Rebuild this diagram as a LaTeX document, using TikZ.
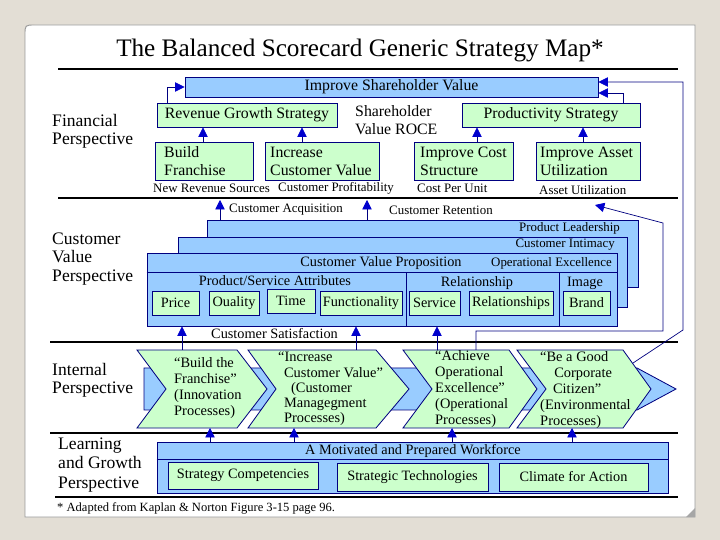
\documentclass[tikz,border=0pt]{standalone}
\usepackage{fontspec}
\setmainfont{Liberation Serif}
\usetikzlibrary{arrows.meta,fit}
\definecolor{bgray}{RGB}{227,222,213}
\definecolor{bblue}{RGB}{153,204,255}
\definecolor{bgreen}{RGB}{204,255,204}
\definecolor{navy}{RGB}{0,0,128}
\definecolor{arrblue}{RGB}{0,0,205}
\newcommand\fsz[2]{\fontsize{#1}{#2}\selectfont}
\begin{document}
\begin{tikzpicture}[x=0.03cm,y=-0.03cm,
  bluebox/.style={draw=navy, fill=bblue, line width=0.8pt, inner sep=0pt},
  greenbox/.style={draw=navy, fill=bgreen, line width=0.8pt, inner sep=0pt},
  chev/.style={draw=navy, fill=bgreen, line width=0.7pt, line join=miter},
  band/.style={draw=navy, fill=bblue, line width=0.7pt},
  arr/.style={draw=navy, line width=0.6pt, -{Triangle[length=8pt,width=8pt,color=arrblue]}},
  link/.style={draw=navy, line width=0.6pt},
  rule/.style={draw=black, line width=0.9pt},
  txt/.style={inner sep=0pt, text=black},
  big/.style={font=\fsz{13.5}{15.4}},
  mid/.style={font=\fsz{12.2}{14}},
  small/.style={font=\fsz{11}{13}},
  chevtxt/.style={inner sep=0pt, anchor=west, align=left, font=\fsz{12.3}{13.8}},
  side/.style={font=\fsz{15}{15.6}, align=left, anchor=west, inner sep=0pt},
]
% background and slide
\fill[bgray] (0,0) rectangle (720,540);
\useasboundingbox (0,0) rectangle (720,540);
\draw[draw=gray!80, fill=white, line width=0.8pt] (25,517) -- (25,35) .. controls (25,25) .. (35,25) -- (695,25) -- (695,517) -- cycle;
\fill[gray!70] (695,508) -- (695,517) -- (686,517) -- cycle;

% title and rules
\node[txt, font=\fsz{21.5}{24}] (title) at (360,50) {The Balanced Scorecard Generic Strategy Map*};
\draw[rule] (58,69) -- (678,69);
\draw[rule] (58,198) -- (678,198);
\draw[rule] (50,342) -- (678,342);
\draw[rule] (50,433) -- (678,433);
\draw[rule] (55,497) -- (678,497);

% side labels
\node[side] (lfin) at (52,131) {Financial\\Perspective};
\node[side] (lcus) at (52,259) {Customer\\Value\\Perspective};
\node[side] (lint) at (52,380) {Internal\\Perspective};
\node[side, font=\fsz{15}{17}] (llrn) at (58,465) {Learning\\and Growth\\Perspective};

% ---------- Financial ----------
\node[bluebox, fit={(185,77)(598,97)}, label={[txt,big]center:Improve Shareholder Value}] (sv) {};
\node[greenbox, fit={(157,103)(337,127)}, label={[txt,big]center:Revenue Growth Strategy}] (rg) {};
\node[greenbox, fit={(462,103)(640,127)}, label={[txt,big]center:Productivity Strategy}] (ps) {};
\node[txt, big, anchor=west, align=left] (roce) at (355,120) {Shareholder\\Value ROCE};
\node[greenbox, fit={(155,142)(253,180)}] (bf) {};
\node[greenbox, fit={(265,142)(379,180)}] (icv) {};
\node[greenbox, fit={(414,142)(513,180)}] (ics) {};
\node[greenbox, fit={(536,142)(640,180)}] (iau) {};
\node[txt, big, anchor=west, align=left] (bft) at (164,161) {Build\\Franchise};
\node[txt, big, anchor=west, align=left] (icvt) at (270,161) {Increase\\Customer Value};
\node[txt, big, anchor=west, align=left] (icst) at (420,161) {Improve Cost\\Structure};
\node[txt, big, anchor=west, align=left] (iaut) at (540,161) {Improve Asset\\Utilization};
\node[txt, small, anchor=west] (nrs) at (153,188) {New Revenue Sources};
\node[txt, small, anchor=west] (cpr) at (278,188) {Customer Profitability};
\node[txt, small, anchor=west] (cpu) at (417,188) {Cost Per Unit};
\node[txt, small, anchor=west] (aut) at (539,190) {Asset Utilization};

\draw[arr] (bf.north -| 203,0) -- (rg.south -| 203,0);
\draw[arr] (icv.north -| 302,0) -- (rg.south -| 302,0);
\draw[arr] (ics.north -| 477,0) -- (ps.south -| 477,0);
\draw[arr] (iau.north -| 583,0) -- (ps.south -| 583,0);
\draw[arr] (rg.north -| 167,0) |- (sv.west);
\draw[arr] (ps.north -| 623,0) |- (sv.east |- 0,93);

% ---------- Customer ----------
\node[bluebox, fit={(207,220)(638,287)}] (pl) {};
\node[txt, small, anchor=east] (plt) at (620,228) {Product Leadership};
\node[bluebox, fit={(178,237)(627,307)}] (ci) {};
\node[txt, small, anchor=east] (cit) at (615,245) {Customer Intimacy};
\node[bluebox, fit={(147,253)(617,326)}] (cvp) {};
\draw[link] (cvp.west |- 0,272) -- (cvp.east |- 0,272);
\draw[link] (cvp.south -| 406,0) -- (406,272);
\draw[link] (cvp.south -| 559,0) -- (559,272);
\node[txt, mid] (cvpt) at (381,263) {Customer Value Proposition};
\node[txt, small, anchor=east] (oet) at (612,263) {Operational Excellence};
\node[txt, mid] (psa) at (275,281) {Product/Service Attributes};
\node[txt, mid] (rel) at (477,283) {Relationship};
\node[txt, mid] (img) at (585,283) {Image};
\node[greenbox, fit={(152,291)(199,315)}, label={[txt,mid]center:Price}] (price) {};
\node[greenbox, fit={(209,291)(259,315)}, label={[txt,mid]center:Ouality}] (qual) {};
\node[greenbox, fit={(267,289)(315,313)}, label={[txt,mid]center:Time}] (time) {};
\node[greenbox, fit={(320,291)(402,315)}, label={[txt,mid]center:Functionality}] (func) {};
\node[greenbox, fit={(409,291)(460,315)}, label={[txt,mid]center:Service}] (serv) {};
\node[greenbox, fit={(469,291)(553,315)}, label={[txt,mid]center:Relationships}] (rels) {};
\node[greenbox, fit={(563,291)(610,315)}, label={[txt,mid]center:Brand}] (brand) {};

\coordinate (cacq) at (220,200);
\coordinate (cret) at (367,200);
\draw[arr] (pl.north -| cacq) -- (cacq);
\draw[arr] (pl.north -| cret) -- (cret);
\node[txt, small, anchor=west] (cacqt) at (229,210) {Customer Acquisition};
\node[txt, small, anchor=west] (crett) at (389,210) {Customer Retention};

% ---------- Internal ----------
\draw[band] (144,368) -- (637,368) -- (676,389) -- (637,410) -- (144,410) -- cycle;
\draw[chev] (137,350) -- (237,350) -- (267,389) -- (237,428) -- (137,428) -- (166,389) -- cycle;
\draw[chev] (248,350) -- (376,350) -- (409,389) -- (376,428) -- (248,428) -- (276,389) -- cycle;
\draw[chev] (403,350) -- (509,350) -- (537,389) -- (509,428) -- (403,428) -- (432,389) -- cycle;
\draw[chev] (517,350) -- (623,350) -- (651,389) -- (623,428) -- (517,428) -- (546,389) -- cycle;
\node[chevtxt] (c1) at (174,388) {“Build the\\Franchise”\\(Innovation\\Processes)};
\node[chevtxt, font=\fsz{12.3}{13}] (c2) at (278,389) {“Increase\\\hspace*{5pt}Customer Value”\\\hspace*{11pt}(Customer\\\hspace*{5pt}Managegment\\\hspace*{5pt}Processes)};
\node[chevtxt] (c3) at (435,389) {“Achieve\\Operational\\Excellence”\\(Operational\\Processes)};
\node[chevtxt] (c4) at (540,390) {“Be a Good\\\hspace*{12pt}Corporate\\\hspace*{11pt}Citizen”\\(Environmental\\Processes)};
\node[txt, mid, anchor=west] (csat) at (211,334) {Customer Satisfaction};

\coordinate (c1t) at (182,350);
\coordinate (c2t) at (356,350);
\coordinate (c3t) at (437,350);
\coordinate (c3p) at (476,350);
\coordinate (c4e) at (633,363);
\draw[arr] (c1t) -- (c1t |- cvp.south);
\draw[arr] (c2t) -- (c2t |- cvp.south);
\draw[arr] (c3t) -- (c3t |- cvp.south);

% feedback links
\coordinate (cfin) at (595,205);
\draw[arr] (c3p) -- (476,331) -- (663,331) -- (663,223) -- (cfin);
\draw[arr] (c4e) -- (683,330) -- (683,82) -- (sv.east |- 0,82);

% ---------- Learning ----------
\node[bluebox, fit={(157,442)(668,493)}] (wf) {};
\draw[link] (wf.west |- 0,459) -- (wf.east |- 0,459);
\node[txt, mid] (wft) at (413,451) {A Motivated and Prepared Workforce};
\node[greenbox, fit={(168,462)(318,489)}, label={[txt,mid]center:Strategy Competencies}] (sc) {};
\node[greenbox, fit={(337,463)(488,491)}, label={[txt,mid]center:Strategic Technologies}] (st) {};
\node[greenbox, fit={(499,463)(648,491)}, label={[txt,mid]center:Climate for Action}] (cfa) {};
\coordinate (c1b) at (210,428);
\coordinate (c2b) at (294,428);
\coordinate (c3b) at (452,428);
\coordinate (c4b) at (572,428);
\draw[arr] (wf.north -| c1b) -- (c1b);
\draw[arr] (wf.north -| c2b) -- (c2b);
\draw[arr] (wf.north -| c3b) -- (c3b);
\draw[arr] (wf.north -| c4b) -- (c4b);

\node[txt, font=\fsz{10.7}{12}, anchor=west] (foot) at (57,508) {* Adapted from Kaplan \& Norton Figure 3-15 page 96.};
\end{tikzpicture}
\end{document}
